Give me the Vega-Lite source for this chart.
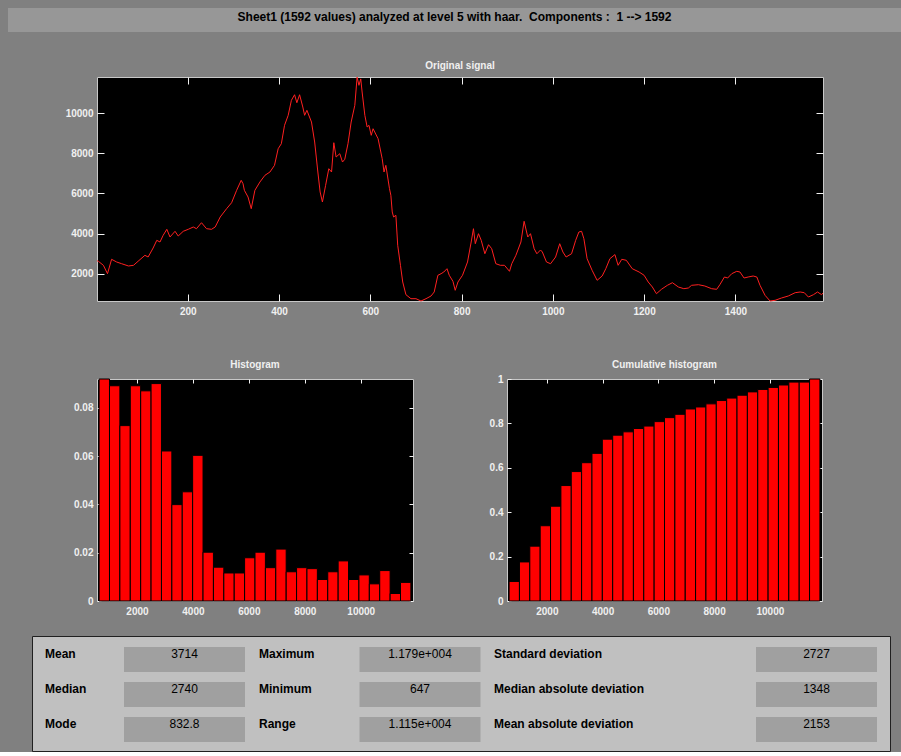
{
  "$schema": "https://vega.github.io/schema/vega-lite/v6.json",
  "padding": {"left": 8, "top": 8, "right": 0, "bottom": 0},
  "background": "#808080",
  "config": {
    "view": {"stroke": null},
    "font": "Liberation Sans",
    "axis": {"grid": false, "domain": false, "labelColor": "#f0f0f0", "labelFontSize": 10, "labelFontWeight": "bold", "labelFont": "Liberation Sans", "tickColor": "#f0f0f0", "tickWidth": 1, "labelFlush": false, "labelOverlap": false}
  },
  "datasets": {
    "header": [{"t": "Sheet1 (1592 values) analyzed at level 5 with haar.\u00a0 Components :\u00a0 1 --> 1592"}],
    "signal": [
      {"i":1,"v":2650},{"i":4,"v":2623},{"i":15,"v":2423},{"i":24,"v":2006},{"i":33,"v":2722},{"i":44,"v":2588},{"i":55,"v":2503},{"i":70,"v":2389},{"i":81,"v":2423},{"i":91,"v":2623},{"i":106,"v":2921},{"i":113,"v":2836},{"i":124,"v":3284},{"i":132,"v":3667},{"i":139,"v":3583},{"i":146,"v":3916},{"i":154,"v":4215},{"i":161,"v":3832},{"i":172,"v":4115},{"i":179,"v":3881},{"i":190,"v":4115},{"i":201,"v":4215},{"i":212,"v":4329},{"i":219,"v":4245},{"i":230,"v":4543},{"i":241,"v":4245},{"i":252,"v":4215},{"i":260,"v":4329},{"i":271,"v":4827},{"i":285,"v":5240},{"i":296,"v":5538},{"i":307,"v":6155},{"i":317,"v":6653},{"i":321,"v":6484},{"i":324,"v":6155},{"i":332,"v":5822},{"i":339,"v":5240},{"i":347,"v":6155},{"i":358,"v":6568},{"i":369,"v":6902},{"i":380,"v":7066},{"i":390,"v":7399},{"i":398,"v":8225},{"i":405,"v":8474},{"i":412,"v":9390},{"i":420,"v":9887},{"i":427,"v":10634},{"i":434,"v":10912},{"i":439,"v":10514},{"i":445,"v":10912},{"i":452,"v":10300},{"i":456,"v":9887},{"i":461,"v":10136},{"i":471,"v":9554},{"i":478,"v":8559},{"i":485,"v":7066},{"i":490,"v":6071},{"i":495,"v":5573},{"i":502,"v":6404},{"i":509,"v":7230},{"i":515,"v":7066},{"i":520,"v":8524},{"i":525,"v":7812},{"i":533,"v":7977},{"i":539,"v":7563},{"i":544,"v":7698},{"i":551,"v":8474},{"i":558,"v":9554},{"i":566,"v":10385},{"i":571,"v":11790},{"i":575,"v":11380},{"i":579,"v":11700},{"i":582,"v":11047},{"i":588,"v":9887},{"i":593,"v":9305},{"i":597,"v":9390},{"i":602,"v":8892},{"i":606,"v":9220},{"i":617,"v":8723},{"i":626,"v":7728},{"i":630,"v":7066},{"i":634,"v":7399},{"i":642,"v":6235},{"i":645,"v":5906},{"i":648,"v":5076},{"i":651,"v":4827},{"i":656,"v":4911},{"i":660,"v":3419},{"i":666,"v":2423},{"i":671,"v":1592},{"i":678,"v":961},{"i":689,"v":762},{"i":700,"v":762},{"i":711,"v":647},{"i":722,"v":762},{"i":733,"v":896},{"i":740,"v":1095},{"i":748,"v":1926},{"i":755,"v":2006},{"i":761,"v":2090},{"i":768,"v":2254},{"i":773,"v":1926},{"i":781,"v":1627},{"i":786,"v":1179},{"i":792,"v":1592},{"i":802,"v":1926},{"i":813,"v":2588},{"i":821,"v":3583},{"i":826,"v":4245},{"i":830,"v":3498},{"i":837,"v":3996},{"i":843,"v":3667},{"i":851,"v":2999},{"i":859,"v":3449},{"i":866,"v":3249},{"i":875,"v":2503},{"i":885,"v":2423},{"i":894,"v":2423},{"i":905,"v":2125},{"i":910,"v":2503},{"i":919,"v":2921},{"i":930,"v":3583},{"i":937,"v":4613},{"i":945,"v":3832},{"i":951,"v":3996},{"i":959,"v":3249},{"i":965,"v":2999},{"i":973,"v":3185},{"i":977,"v":3085},{"i":986,"v":2588},{"i":995,"v":2503},{"i":1006,"v":2836},{"i":1015,"v":3498},{"i":1022,"v":3085},{"i":1029,"v":2836},{"i":1041,"v":2999},{"i":1050,"v":3667},{"i":1057,"v":4080},{"i":1063,"v":4115},{"i":1068,"v":3747},{"i":1075,"v":2752},{"i":1086,"v":2175},{"i":1097,"v":1677},{"i":1108,"v":1891},{"i":1116,"v":2254},{"i":1125,"v":2752},{"i":1136,"v":2956},{"i":1143,"v":2423},{"i":1151,"v":2722},{"i":1161,"v":2672},{"i":1174,"v":2254},{"i":1189,"v":2090},{"i":1200,"v":1926},{"i":1209,"v":1592},{"i":1218,"v":1344},{"i":1227,"v":1010},{"i":1238,"v":1229},{"i":1251,"v":1428},{"i":1262,"v":1558},{"i":1275,"v":1344},{"i":1287,"v":1259},{"i":1297,"v":1294},{"i":1304,"v":1428},{"i":1319,"v":1458},{"i":1333,"v":1393},{"i":1348,"v":1259},{"i":1359,"v":1229},{"i":1366,"v":1458},{"i":1376,"v":1841},{"i":1383,"v":1791},{"i":1392,"v":2006},{"i":1403,"v":2125},{"i":1410,"v":2090},{"i":1419,"v":1791},{"i":1428,"v":1841},{"i":1439,"v":1891},{"i":1447,"v":1841},{"i":1454,"v":1428},{"i":1465,"v":930},{"i":1476,"v":647},{"i":1487,"v":682},{"i":1501,"v":796},{"i":1516,"v":896},{"i":1531,"v":1060},{"i":1542,"v":1095},{"i":1551,"v":1060},{"i":1560,"v":846},{"i":1571,"v":961},{"i":1580,"v":1095},{"i":1589,"v":961},{"i":1592,"v":1050}
    ],
    "hist": [
      {"lo":647,"hi":1018.57,"p":0.0919},{"lo":1018.57,"hi":1390.13,"p":0.0891},{"lo":1390.13,"hi":1761.7,"p":0.0726},{"lo":1761.7,"hi":2133.27,"p":0.0891},{"lo":2133.27,"hi":2504.83,"p":0.087},{"lo":2504.83,"hi":2876.4,"p":0.09},{"lo":2876.4,"hi":3247.97,"p":0.0621},{"lo":3247.97,"hi":3619.53,"p":0.0399},{"lo":3619.53,"hi":3991.1,"p":0.0452},{"lo":3991.1,"hi":4362.67,"p":0.0603},{"lo":4362.67,"hi":4734.23,"p":0.0202},{"lo":4734.23,"hi":5105.8,"p":0.014},{"lo":5105.8,"hi":5477.37,"p":0.0116},{"lo":5477.37,"hi":5848.93,"p":0.0116},{"lo":5848.93,"hi":6220.5,"p":0.0179},{"lo":6220.5,"hi":6592.07,"p":0.0202},{"lo":6592.07,"hi":6963.63,"p":0.0138},{"lo":6963.63,"hi":7335.2,"p":0.0215},{"lo":7335.2,"hi":7706.77,"p":0.0121},{"lo":7706.77,"hi":8078.33,"p":0.0138},{"lo":8078.33,"hi":8449.9,"p":0.0134},{"lo":8449.9,"hi":8821.47,"p":0.0089},{"lo":8821.47,"hi":9193.03,"p":0.0121},{"lo":9193.03,"hi":9564.6,"p":0.0166},{"lo":9564.6,"hi":9936.17,"p":0.0089},{"lo":9936.17,"hi":10307.73,"p":0.0108},{"lo":10307.73,"hi":10679.3,"p":0.0071},{"lo":10679.3,"hi":11050.87,"p":0.0126},{"lo":11050.87,"hi":11422.43,"p":0.0031},{"lo":11422.43,"hi":11794,"p":0.0077}
    ],
    "cum": [
      {"lo":647,"hi":1018.57,"c":0.088},{"lo":1018.57,"hi":1390.13,"c":0.176},{"lo":1390.13,"hi":1761.7,"c":0.247},{"lo":1761.7,"hi":2133.27,"c":0.339},{"lo":2133.27,"hi":2504.83,"c":0.427},{"lo":2504.83,"hi":2876.4,"c":0.52},{"lo":2876.4,"hi":3247.97,"c":0.583},{"lo":3247.97,"hi":3619.53,"c":0.623},{"lo":3619.53,"hi":3991.1,"c":0.665},{"lo":3991.1,"hi":4362.67,"c":0.729},{"lo":4362.67,"hi":4734.23,"c":0.747},{"lo":4734.23,"hi":5105.8,"c":0.762},{"lo":5105.8,"hi":5477.37,"c":0.777},{"lo":5477.37,"hi":5848.93,"c":0.788},{"lo":5848.93,"hi":6220.5,"c":0.808},{"lo":6220.5,"hi":6592.07,"c":0.826},{"lo":6592.07,"hi":6963.63,"c":0.841},{"lo":6963.63,"hi":7335.2,"c":0.865},{"lo":7335.2,"hi":7706.77,"c":0.874},{"lo":7706.77,"hi":8078.33,"c":0.888},{"lo":8078.33,"hi":8449.9,"c":0.903},{"lo":8449.9,"hi":8821.47,"c":0.914},{"lo":8821.47,"hi":9193.03,"c":0.927},{"lo":9193.03,"hi":9564.6,"c":0.942},{"lo":9564.6,"hi":9936.17,"c":0.953},{"lo":9936.17,"hi":10307.73,"c":0.962},{"lo":10307.73,"hi":10679.3,"c":0.973},{"lo":10679.3,"hi":11050.87,"c":0.986},{"lo":11050.87,"hi":11422.43,"c":0.986},{"lo":11422.43,"hi":11794,"c":1.0}
    ],
    "stats": [
      {"label":"Mean","value":"3714","col":1,"row":1},{"label":"Median","value":"2740","col":1,"row":2},{"label":"Mode","value":"832.8","col":1,"row":3},
      {"label":"Maximum","value":"1.179e+004","col":2,"row":1},{"label":"Minimum","value":"647","col":2,"row":2},{"label":"Range","value":"1.115e+004","col":2,"row":3},
      {"label":"Standard deviation","value":"2727","col":3,"row":1},{"label":"Median absolute deviation","value":"1348","col":3,"row":2},{"label":"Mean absolute deviation","value":"2153","col":3,"row":3}
    ]
  },
  "spacing": 28,
  "vconcat": [
    {
      "width": 893, "height": 24,
      "view": {"fill": "#979797", "stroke": null},
      "data": {"name": "header"},
      "mark": {"type": "text", "fontSize": 12, "fontWeight": "bold", "color": "#000000", "dy": -3},
      "encoding": {"text": {"field": "t", "type": "nominal"}}
    },
    {
      "spacing": 42,
      "vconcat": [
        {
          "spacing": 0,
          "hconcat": [
            {"width": 52, "height": 1, "data": {"values": [{}]}, "mark": {"type": "rect", "opacity": 0}, "view": {"stroke": null}},
            {
              "width": 726, "height": 224,
              "title": {"text": "Original signal", "fontSize": 10, "fontWeight": "bold", "color": "#f0f0f0", "offset": 4, "anchor": "middle", "frame": "group"},
              "view": {"fill": "#000000", "stroke": "#c8c8c8"},
              "data": {"name": "signal"},
              "layer": [
                {
                  "mark": {"type": "line", "color": "#ff2020", "strokeWidth": 1},
                  "encoding": {
                    "x": {"field": "i", "type": "quantitative", "scale": {"domain": [1, 1592], "nice": false, "zero": false},
                          "axis": {"title": null, "values": [200, 400, 600, 800, 1000, 1200, 1400], "tickSize": -7, "labelPadding": 12, "format": "d"}},
                    "y": {"field": "v", "type": "quantitative", "scale": {"domain": [647, 11794], "nice": false, "zero": false},
                          "axis": {"title": null, "values": [2000, 4000, 6000, 8000, 10000], "tickSize": -7, "labelPadding": 11, "format": "d", "minExtent": 36}}
                  }
                },
                {
                  "mark": {"type": "point", "opacity": 0, "size": 1},
                  "encoding": {
                    "x": {"field": "i", "type": "quantitative", "scale": {"domain": [1, 1592], "nice": false, "zero": false},
                          "axis": {"orient": "top", "title": null, "labels": false, "values": [200, 400, 600, 800, 1000, 1200, 1400], "tickSize": -7, "minExtent": 0, "maxExtent": 0}},
                    "y": {"field": "v", "type": "quantitative", "scale": {"domain": [647, 11794], "nice": false, "zero": false},
                          "axis": {"orient": "right", "title": null, "labels": false, "values": [2000, 4000, 6000, 8000, 10000], "tickSize": -7, "minExtent": 0, "maxExtent": 0}}
                  }
                }
              ],
              "resolve": {"axis": {"x": "independent", "y": "independent"}}
            }
          ]
        },
        {
          "spacing": 18,
          "vconcat": [
            {
              "spacing": 0,
              "hconcat": [
                {"width": 60, "height": 1, "data": {"values": [{}]}, "mark": {"type": "rect", "opacity": 0}, "view": {"stroke": null}},
                {
                  "width": 316, "height": 222,
                  "title": {"text": "Histogram", "fontSize": 10, "fontWeight": "bold", "color": "#f0f0f0", "offset": 9, "anchor": "middle", "frame": "group"},
                  "view": {"fill": "#000000", "stroke": "#c8c8c8"},
                  "data": {"name": "hist"},
                  "layer": [
                    {
                      "mark": {"type": "bar", "color": "#ff0000", "stroke": "#000000", "strokeWidth": 1},
                      "encoding": {
                        "x": {"field": "lo", "type": "quantitative", "scale": {"domain": [572, 11869], "nice": false, "zero": false},
                              "axis": {"title": null, "values": [2000, 4000, 6000, 8000, 10000], "tickSize": -4, "labelPadding": 9, "format": "d"}},
                        "x2": {"field": "hi"},
                        "y": {"field": "p", "type": "quantitative", "scale": {"domain": [0, 0.0919], "nice": false},
                              "axis": {"title": null, "values": [0, 0.02, 0.04, 0.06, 0.08], "tickSize": -4, "labelPadding": 8, "format": ".2~f", "minExtent": 28}},
                        "y2": {"datum": 0}
                      }
                    },
                    {
                      "mark": {"type": "point", "opacity": 0, "size": 1},
                      "encoding": {
                        "x": {"field": "lo", "type": "quantitative", "scale": {"domain": [572, 11869], "nice": false, "zero": false},
                              "axis": {"orient": "top", "title": null, "labels": false, "values": [2000, 4000, 6000, 8000, 10000], "tickSize": -4, "minExtent": 0, "maxExtent": 0}},
                        "y": {"field": "p", "type": "quantitative", "scale": {"domain": [0, 0.0919], "nice": false},
                              "axis": {"orient": "right", "title": null, "labels": false, "values": [0, 0.02, 0.04, 0.06, 0.08], "tickSize": -4, "minExtent": 0, "maxExtent": 0}}
                      }
                    }
                  ],
                  "resolve": {"axis": {"x": "independent", "y": "independent"}}
                },
                {"width": 63.5, "height": 1, "data": {"values": [{}]}, "mark": {"type": "rect", "opacity": 0}, "view": {"stroke": null}},
                {
                  "width": 315, "height": 222,
                  "title": {"text": "Cumulative histogram", "fontSize": 10, "fontWeight": "bold", "color": "#f0f0f0", "offset": 4, "anchor": "middle", "frame": "group"},
                  "view": {"fill": "#000000", "stroke": "#c8c8c8"},
                  "data": {"name": "cum"},
                  "layer": [
                    {
                      "mark": {"type": "bar", "color": "#ff0000", "stroke": "#000000", "strokeWidth": 1},
                      "encoding": {
                        "x": {"field": "lo", "type": "quantitative", "scale": {"domain": [572, 11869], "nice": false, "zero": false},
                              "axis": {"title": null, "values": [2000, 4000, 6000, 8000, 10000], "tickSize": -4, "labelPadding": 9, "format": "d"}},
                        "x2": {"field": "hi"},
                        "y": {"field": "c", "type": "quantitative", "scale": {"domain": [0, 1], "nice": false},
                              "axis": {"title": null, "values": [0, 0.2, 0.4, 0.6, 0.8, 1], "tickSize": -4, "labelPadding": 8, "format": ".1~f", "minExtent": 28}},
                        "y2": {"datum": 0}
                      }
                    },
                    {
                      "mark": {"type": "point", "opacity": 0, "size": 1},
                      "encoding": {
                        "x": {"field": "lo", "type": "quantitative", "scale": {"domain": [572, 11869], "nice": false, "zero": false},
                              "axis": {"orient": "top", "title": null, "labels": false, "values": [2000, 4000, 6000, 8000, 10000], "tickSize": -4, "minExtent": 0, "maxExtent": 0}},
                        "y": {"field": "c", "type": "quantitative", "scale": {"domain": [0, 1], "nice": false},
                              "axis": {"orient": "right", "title": null, "labels": false, "values": [0, 0.2, 0.4, 0.6, 0.8, 1], "tickSize": -4, "minExtent": 0, "maxExtent": 0}}
                      }
                    }
                  ],
                  "resolve": {"axis": {"x": "independent", "y": "independent"}}
                }
              ]
            },
            {
              "spacing": 0,
              "hconcat": [
                {"width": 23, "height": 1, "data": {"values": [{}]}, "mark": {"type": "rect", "opacity": 0}, "view": {"stroke": null}},
                {
                  "width": 858, "height": 115,
                  "view": {"fill": "#c0c0c0", "stroke": "#202020", "strokeWidth": 1},
                  "data": {"name": "stats"},
                  "layer": [
                    {
                      "mark": {"type": "tick", "orient": "horizontal", "size": 121, "thickness": 25, "color": "#a0a0a0", "opacity": 1},
                      "encoding": {
                        "x": {"field": "col", "type": "quantitative", "scale": {"domain": [1, 2, 3], "range": [152.5, 388, 784.5]}, "axis": null},
                        "y": {"field": "row", "type": "quantitative", "scale": {"domain": [1, 3], "range": [23.5, 93.5]}, "axis": null}
                      }
                    },
                    {
                      "mark": {"type": "text", "fontSize": 12, "color": "#000000", "align": "center", "baseline": "middle", "dy": -5.5},
                      "encoding": {
                        "x": {"field": "col", "type": "quantitative", "scale": {"domain": [1, 2, 3], "range": [152.5, 388, 784.5]}, "axis": null},
                        "y": {"field": "row", "type": "quantitative", "scale": {"domain": [1, 3], "range": [23.5, 93.5]}, "axis": null},
                        "text": {"field": "value", "type": "nominal"}
                      }
                    },
                    {
                      "mark": {"type": "text", "fontSize": 12, "fontWeight": "bold", "color": "#000000", "align": "left", "baseline": "middle", "dy": -5.5},
                      "encoding": {
                        "x": {"field": "col", "type": "quantitative", "scale": {"domain": [1, 2, 3], "range": [13, 227, 462]}, "axis": null},
                        "y": {"field": "row", "type": "quantitative", "scale": {"domain": [1, 3], "range": [23.5, 93.5]}, "axis": null},
                        "text": {"field": "label", "type": "nominal"}
                      }
                    }
                  ],
                  "resolve": {"scale": {"x": "independent"}}
                }
              ]
            }
          ]
        }
      ]
    }
  ]
}
